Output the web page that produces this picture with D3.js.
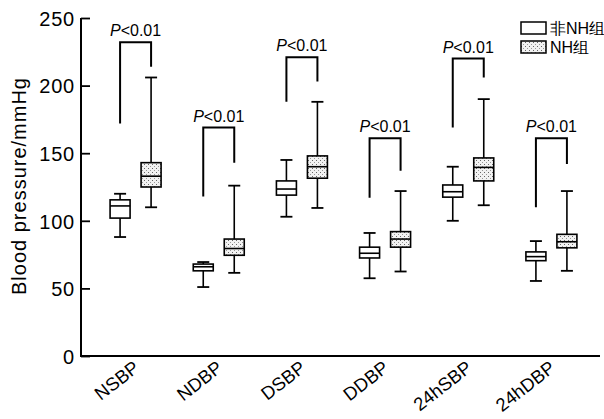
<!DOCTYPE html>
<html>
<head>
<meta charset="utf-8">
<script src="https://cdn.jsdelivr.net/npm/d3@7"></script>
<style>
  body { margin: 0; background: #fff; }
  text { font-family: "Liberation Sans", Arial, sans-serif; fill: #000; }
</style>
</head>
<body>
<div id="chart"></div>
<script>
var svgWidth = 604;
var svgHeight = 419;

// data: [min, q1, median, q3, max]
var categories = ["NSBP", "NDBP", "DSBP", "DDBP", "24hSBP", "24hDBP"];
var nonNH = [
  [88, 102, 111, 115.5, 120],
  [51, 63, 66, 68, 69.5],
  [103, 119, 123.5, 129.5, 145],
  [57.5, 72.5, 76, 80.5, 91],
  [100, 117.5, 121.5, 126.5, 140],
  [55.5, 70.5, 73.5, 77, 85]
];
var nh = [
  [110, 125, 133, 143, 206],
  [61.5, 74.5, 79.5, 86.5, 126],
  [109.5, 131.5, 140, 148, 188],
  [62.5, 80.5, 86.5, 92, 122],
  [111.5, 129.5, 139.5, 146.5, 190],
  [63, 80, 84.5, 90, 122]
];
// significance brackets: [left leg end, top, right leg end]
var brackets = [
  [172, 232, 214],
  [118, 169, 143],
  [188, 221, 203],
  [117, 161, 137],
  [169, 220, 206],
  [110, 161, 142]
];
var pLabel = "<0.01";
var yTicks = [0, 50, 100, 150, 200, 250];
var legendLabels = ["非NH组", "NH组"];

var svg = d3.select("#chart")
  .append("svg")
  .attr("width", svgWidth)
  .attr("height", svgHeight);

// dotted fill for NH boxes
var defs = svg.append("defs");
var pat = defs.append("pattern")
  .attr("id", "dots")
  .attr("patternUnits", "userSpaceOnUse")
  .attr("width", 4)
  .attr("height", 4);
pat.append("rect").attr("width", 4).attr("height", 4).attr("fill", "#f2f2f2");
pat.append("rect").attr("x", 0).attr("y", 0).attr("width", 1).attr("height", 1).attr("fill", "#666");
pat.append("rect").attr("x", 2).attr("y", 2).attr("width", 1).attr("height", 1).attr("fill", "#999");

var x = d3.scaleBand()
  .domain(categories)
  .range([94, 593]);

var y = d3.scaleLinear()
  .domain([0, 250])
  .range([356, 18]);

var offset = 15.5;
var boxW = 20;
var capW = 12;

// y axis
var yAxis = svg.append("g")
  .attr("transform", "translate(81,0)")
  .call(d3.axisRight(y).tickValues(yTicks).tickSize(9).tickFormat(d3.format("d")));
yAxis.select(".domain").remove();
yAxis.selectAll(".tick line").attr("stroke", "#000").attr("stroke-width", 1.8);
yAxis.selectAll(".tick text")
  .attr("x", -6)
  .attr("text-anchor", "end")
  .attr("dy", "0.36em")
  .style("font-size", "20px")
  .style("letter-spacing", "0.8px");

svg.append("line")
  .attr("x1", 81).attr("x2", 81)
  .attr("y1", y(250)).attr("y2", y(0) + 1)
  .attr("stroke", "#000").attr("stroke-width", 2);
svg.append("line")
  .attr("x1", 80).attr("x2", 600)
  .attr("y1", y(0)).attr("y2", y(0))
  .attr("stroke", "#000").attr("stroke-width", 2);

// x labels
svg.append("g").selectAll("text")
  .data(categories)
  .enter()
  .append("text")
  .attr("transform", d => `translate(${x(d) + x.bandwidth() / 2 + 5}, 370) rotate(-38)`)
  .attr("text-anchor", "end")
  .style("font-size", "18.5px")
  .text(d => d);

// y label
svg.append("text")
  .attr("transform", "translate(26, 186) rotate(-90)")
  .attr("text-anchor", "middle")
  .style("font-size", "20px")
  .style("letter-spacing", "1px")
  .text("Blood pressure/mmHg");

function drawBox(g, cx, s, fill) {
  g.append("line")
    .attr("x1", cx).attr("x2", cx)
    .attr("y1", y(s[0])).attr("y2", y(s[4]))
    .attr("stroke", "#000").attr("stroke-width", 1.6);
  [s[0], s[4]].forEach(function(v) {
    g.append("line")
      .attr("x1", cx - capW / 2).attr("x2", cx + capW / 2)
      .attr("y1", y(v)).attr("y2", y(v))
      .attr("stroke", "#000").attr("stroke-width", 1.8);
  });
  g.append("rect")
    .attr("x", cx - boxW / 2)
    .attr("y", y(s[3]))
    .attr("width", boxW)
    .attr("height", y(s[1]) - y(s[3]))
    .attr("fill", fill)
    .attr("stroke", "#000")
    .attr("stroke-width", 1.6);
  g.append("line")
    .attr("x1", cx - boxW / 2).attr("x2", cx + boxW / 2)
    .attr("y1", y(s[2])).attr("y2", y(s[2]))
    .attr("stroke", "#000").attr("stroke-width", 1.6);
}

var boxes = svg.append("g");
categories.forEach(function(c, i) {
  var mid = x(c) + x.bandwidth() / 2;
  var lx = mid - offset;
  var rx = mid + offset;
  drawBox(boxes, lx, nonNH[i], "#fff");
  drawBox(boxes, rx, nh[i], "url(#dots)");

  var b = brackets[i];
  boxes.append("path")
    .attr("d", `M${lx},${y(b[0])}V${y(b[1])}H${rx}V${y(b[2])}`)
    .attr("fill", "none")
    .attr("stroke", "#000")
    .attr("stroke-width", 2);

  var t = boxes.append("text")
    .attr("x", mid)
    .attr("y", y(b[1]) - 6)
    .attr("text-anchor", "middle")
    .style("font-size", "16px");
  t.append("tspan").style("font-style", "italic").text("P");
  t.append("tspan").text(pLabel);
});

// legend
var legend = svg.append("g").attr("transform", "translate(521,22)");
legendLabels.forEach(function(l, i) {
  legend.append("rect")
    .attr("x", 0)
    .attr("y", i * 19)
    .attr("width", 25)
    .attr("height", 12)
    .attr("fill", i === 0 ? "#fff" : "url(#dots)")
    .attr("stroke", "#000")
    .attr("stroke-width", 1.5);
  legend.append("text")
    .attr("x", 29)
    .attr("y", i * 19 + 6)
    .attr("dy", "0.36em")
    .style("font-size", "16px")
    .text(l);
});
</script>
</body>
</html>
